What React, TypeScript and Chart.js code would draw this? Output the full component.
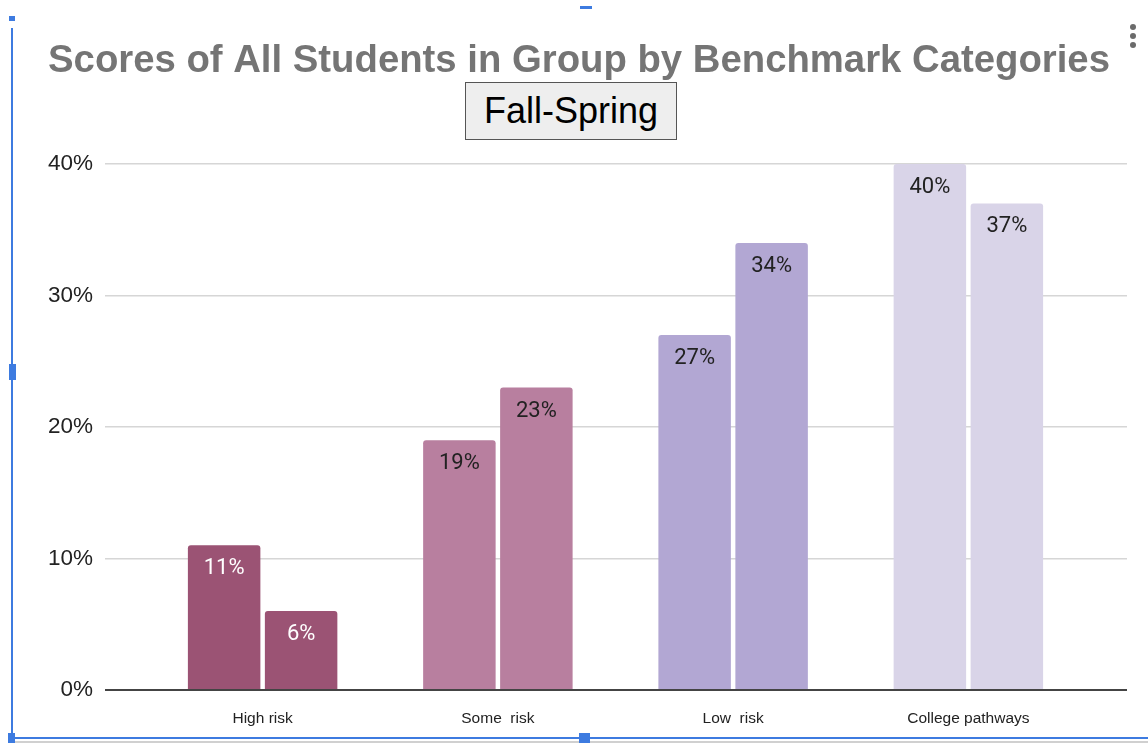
import React, { useEffect, useRef } from "react";
import { Chart, registerables } from "chart.js";

Chart.register(...registerables);

const categories = ["High risk", "Some  risk", "Low  risk", "College pathways"];
const fallValues = [11, 19, 27, 40];
const springValues = [6, 23, 34, 37];
const categoryColors = ["#9b5374", "#b87f9f", "#b2a7d3", "#d9d4e8"];
const labelColors = ["#ffffff", "#222222", "#222222", "#222222"];
const yTicks = [0, 10, 20, 30, 40];
const titleText = "Scores of All Students in Group by Benchmark Categories";
const subtitleText = "Fall-Spring";

const barLabels = {
  id: "barLabels",
  afterDatasetsDraw(chart: any) {
    const ctx = chart.ctx;
    ctx.save();
    ctx.font = "22px Roboto";
    ctx.textAlign = "center";
    ctx.textBaseline = "middle";
    chart.data.datasets.forEach((ds: any, di: number) => {
      const meta = chart.getDatasetMeta(di);
      meta.data.forEach((bar: any, i: number) => {
        ctx.fillStyle = labelColors[i];
        ctx.fillText(ds.data[i] + "%", bar.x, bar.y + 23.5);
      });
    });
    ctx.restore();
  },
};

const gridColor = (c: any) => (c.tick && c.tick.value === 0 ? "#444444" : "#d6d6d6");
const gridWidth = (c: any) => (c.tick && c.tick.value === 0 ? 2 : 1.5);
const setTicks = (s: any) => {
  s.ticks = yTicks.map((v) => ({ value: v }));
};

export default function App() {
  const ref = useRef<HTMLCanvasElement | null>(null);

  useEffect(() => {
    if (!ref.current) return;
    const chart = new Chart(ref.current, {
      type: "bar",
      data: {
        labels: categories,
        datasets: [
          {
            label: "Fall",
            data: fallValues,
            backgroundColor: categoryColors,
            borderRadius: { topLeft: 3, topRight: 3, bottomLeft: 0, bottomRight: 0 },
            borderSkipped: "start",
            categoryPercentage: 0.6545,
            barPercentage: 0.9416,
            yAxisID: "y",
          },
          {
            label: "Spring",
            data: springValues,
            backgroundColor: categoryColors,
            borderRadius: { topLeft: 3, topRight: 3, bottomLeft: 0, bottomRight: 0 },
            borderSkipped: "start",
            categoryPercentage: 0.6545,
            barPercentage: 0.9416,
            yAxisID: "y",
          },
        ],
      },
      options: {
        responsive: false,
        devicePixelRatio: 1,
        animation: false,
        layout: { padding: { left: 10, right: 0, top: 0, bottom: 0 } },
        plugins: {
          legend: { display: false },
          tooltip: { enabled: false },
          title: {
            display: true,
            text: titleText,
            color: "#757575",
            font: { family: "Liberation Sans", size: 38.3, weight: "bold" },
            padding: { top: 38, bottom: 80.04 },
          },
        },
        scales: {
          x: {
            type: "category",
            grid: { display: false, drawTicks: false },
            border: { display: false },
            ticks: {
              color: "#222222",
              font: { family: "Liberation Sans", size: 15.5 },
              padding: 19,
              maxRotation: 0,
              autoSkip: false,
            },
            afterFit: (s: any) => {
              s.height = 53;
            },
          },
          y: {
            type: "linear",
            position: "left",
            min: 0,
            max: 40,
            afterBuildTicks: setTicks,
            ticks: {
              callback: (v: any) => v + "%",
              color: "#222222",
              font: { family: "Liberation Sans", size: 22.5 },
              padding: 12,
            },
            grid: { color: gridColor, lineWidth: gridWidth, tickLength: 40 },
            border: { display: false },
            afterFit: (s: any) => {
              s.width = 135;
            },
          },
          y2: {
            type: "linear",
            position: "right",
            min: 0,
            max: 40,
            afterBuildTicks: setTicks,
            ticks: { display: false },
            grid: { color: gridColor, lineWidth: gridWidth, tickLength: 41, drawOnChartArea: false },
            border: { display: false },
            afterFit: (s: any) => {
              s.width = 62;
            },
          },
        },
      },
      plugins: [barLabels],
    } as any);
    return () => chart.destroy();
  }, []);

  const blue = "#3d7be0";
  const abs = (l: number, t: number, w: number, h: number, bg: string): React.CSSProperties => ({
    position: "absolute",
    left: l,
    top: t,
    width: w,
    height: h,
    background: bg,
  });

  return (
    <div style={{ position: "absolute", left: 0, top: 0, width: 1148, height: 743, background: "#ffffff", overflow: "hidden" }}>
      <canvas ref={ref} width={1148} height={743} style={{ position: "absolute", left: 0, top: 0 }} />
      <div
        style={{
          position: "absolute",
          left: 465,
          top: 82,
          width: 212,
          height: 58,
          boxSizing: "border-box",
          border: "1.5px solid #555555",
          background: "#eeeeee",
          fontFamily: "Liberation Sans",
          fontSize: 36,
          color: "#000000",
          textAlign: "center",
          lineHeight: "55px",
        }}
      >
        {subtitleText}
      </div>
      {/* three-dot menu */}
      {[27, 36, 45].map((y) => (
        <div key={y} style={{ ...abs(1130, y - 3, 6, 6, "#6b6b6b"), borderRadius: 3 }} />
      ))}
      {/* selection frame */}
      <div style={abs(11, 28, 2, 712, blue)} />
      <div style={abs(9, 16, 6, 5, blue)} />
      <div style={abs(580, 6, 12, 3, blue)} />
      <div style={abs(9, 364, 7, 16, blue)} />
      <div style={abs(14, 737, 1134, 2, blue)} />
      <div style={abs(14, 741, 1134, 2, "#d0d0d0")} />
      <div style={abs(8, 733, 7, 10, blue)} />
      <div style={abs(579, 733, 11, 10, blue)} />
    </div>
  );
}
